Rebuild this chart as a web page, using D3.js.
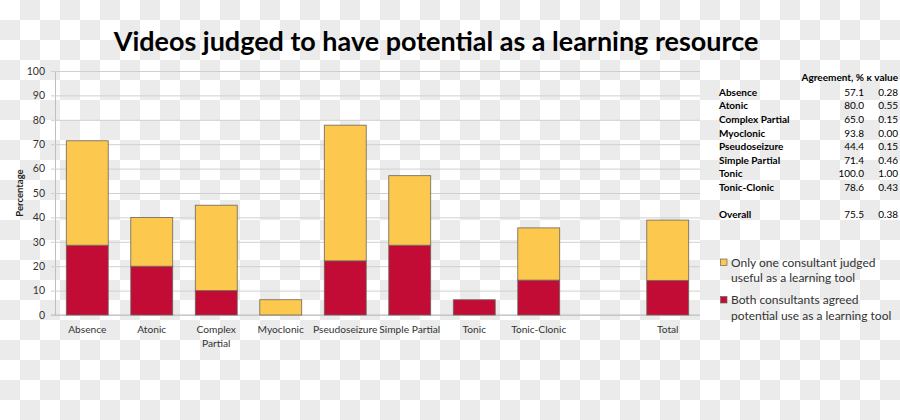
<!DOCTYPE html>
<html>
<head>
<meta charset="utf-8">
<script src="https://cdn.jsdelivr.net/npm/d3@7"></script>
<style>
  html, body { margin: 0; padding: 0; background: #fff; }
  svg { display: block; font-family: Lato, "Open Sans", sans-serif; }
</style>
</head>
<body>
<svg id="chart" width="900" height="420"></svg>
<script>
// ---- Data ----
const categories = ["Absence", "Atonic", "Complex Partial", "Myoclonic", "Pseudoseizure",
                    "Simple Partial", "Tonic", "Tonic-Clonic", "", "Total"];
const tickLabels = ["Absence", "Atonic", "Complex\nPartial", "Myoclonic", "Pseudoseizure",
                    "Simple Partial", "Tonic", "Tonic-Clonic", "", "Total"];
const bothAgreed = [28.6, 20.0, 10.0, 0, 22.2, 28.6, 6.25, 14.3, null, 14.2];
const onlyOne    = [42.8, 20.0, 35.0, 6.25, 55.6, 28.5, 0, 21.4, null, 24.7];
const yTicks = [0, 10, 20, 30, 40, 50, 60, 70, 80, 90, 100];

const tableTypes = ["Absence", "Atonic", "Complex Partial", "Myoclonic", "Pseudoseizure",
                    "Simple Partial", "Tonic", "Tonic-Clonic"];
const agreement = ["57.1", "80.0", "65.0", "93.8", "44.4", "71.4", "100.0", "78.6"];
const kappa     = ["0.28", "0.55", "0.15", "0.00", "0.15", "0.46", "1.00", "0.43"];
const overallRow = ["Overall", "75.5", "0.38"];

const seriesNames = ["Only one consultant judged\nuseful as a learning tool",
                     "Both consultants agreed\npotential use as a learning tool"];
const colors = { one: "#FDC84E", both: "#C20C35" };

// ---- Setup ----
const svg = d3.select("#chart");
const W = 900, H = 420;

// checkerboard backdrop (as in the reference image)
const defs = svg.append("defs");
const pat = defs.append("pattern").attr("id", "checker")
  .attr("width", 40).attr("height", 40).attr("patternUnits", "userSpaceOnUse");
pat.append("rect").attr("width", 40).attr("height", 40).attr("fill", "#ffffff");
pat.append("rect").attr("x", 20).attr("y", 0).attr("width", 20).attr("height", 20).attr("fill", "#ebebeb");
pat.append("rect").attr("x", 0).attr("y", 20).attr("width", 20).attr("height", 20).attr("fill", "#ebebeb");
svg.append("rect").attr("width", W).attr("height", H).attr("fill", "url(#checker)");

const plot = { left: 55, right: 700, top: 71, bottom: 315 };

const x = d3.scaleBand().domain(d3.range(categories.length))
  .range([plot.left, plot.right]).paddingInner(0.35).paddingOuter(0.175);
const y = d3.scaleLinear().domain([0, 100]).range([plot.bottom, plot.top]);

// gridlines + y axis
const yAxis = d3.axisLeft(y).tickValues(yTicks).tickSize(-(plot.right - plot.left)).tickPadding(10);
const gy = svg.append("g").attr("transform", `translate(${plot.left},0)`).call(yAxis);
gy.select(".domain").attr("stroke", "#bfbfbf");
gy.selectAll(".tick line").attr("stroke", "#d0d0d0").attr("x1", -4);
gy.selectAll(".tick text").attr("fill", "#333").style("font-size", "10.5px")
  .style("font-family", "Lato, sans-serif");

// x baseline
svg.append("line").attr("x1", plot.left - 4).attr("x2", plot.right)
  .attr("y1", y(0)).attr("y2", y(0)).attr("stroke", "#bfbfbf");

// bars
const data = categories.map((c, i) => ({ i, c, both: bothAgreed[i], one: onlyOne[i] }))
  .filter(d => d.both !== null);
const barG = svg.append("g");
data.forEach(d => {
  if (d.both > 0) {
    barG.append("rect").attr("x", x(d.i)).attr("width", x.bandwidth())
      .attr("y", y(d.both)).attr("height", y(0) - y(d.both))
      .attr("fill", colors.both).attr("stroke", "#6b655a").attr("stroke-width", 0.8);
  }
  if (d.one > 0) {
    barG.append("rect").attr("x", x(d.i)).attr("width", x.bandwidth())
      .attr("y", y(d.both + d.one)).attr("height", y(d.both) - y(d.both + d.one))
      .attr("fill", colors.one).attr("stroke", "#6b655a").attr("stroke-width", 0.8);
  }
});

// x labels
const xl = svg.append("g");
tickLabels.forEach((lab, i) => {
  const t = xl.append("text").attr("x", x(i) + x.bandwidth() / 2).attr("y", 333)
    .attr("text-anchor", "middle").attr("fill", "#333").style("font-size", "10.2px");
  lab.split("\n").forEach((ln, k) => {
    t.append("tspan").attr("x", x(i) + x.bandwidth() / 2).attr("dy", k === 0 ? 0 : 13.5).text(ln);
  });
});

// y title
svg.append("text").attr("transform", "translate(23,193) rotate(-90)")
  .attr("text-anchor", "middle").attr("fill", "#222").style("font-size", "9.5px")
  .style("font-weight", "bold").text("Percentage");

// title
const title = svg.append("text").attr("x", 436).attr("y", 51).attr("text-anchor", "middle")
  .attr("fill", "#000").style("font-size", "26px").style("font-weight", "bold")
  .text("Videos judged to have potential as a learning resource");
{
  const len = title.node().getComputedTextLength();
  title.style("font-size", (26 * 645 / len) + "px");
}

// table
const tg = svg.append("g").style("font-size", "10px").attr("fill", "#000");
tg.append("text").attr("x", 864).attr("y", 80.5).attr("text-anchor", "end")
  .style("font-weight", "bold").text("Agreement, %");
tg.append("text").attr("x", 898).attr("y", 80.5).attr("text-anchor", "end")
  .style("font-weight", "bold").text("κ value");
const rowY = d3.scaleLinear().domain([0, 1]).range([95.8, 109.4]);
tableTypes.forEach((t, i) => {
  tg.append("text").attr("x", 719).attr("y", rowY(i)).style("font-weight", "bold").text(t);
  tg.append("text").attr("x", 864).attr("y", rowY(i)).attr("text-anchor", "end").text(agreement[i]);
  tg.append("text").attr("x", 898).attr("y", rowY(i)).attr("text-anchor", "end").text(kappa[i]);
});
tg.append("text").attr("x", 719).attr("y", rowY(9)).style("font-weight", "bold").text(overallRow[0]);
tg.append("text").attr("x", 864).attr("y", rowY(9)).attr("text-anchor", "end").text(overallRow[1]);
tg.append("text").attr("x", 898).attr("y", rowY(9)).attr("text-anchor", "end").text(overallRow[2]);

// legend
const lg = svg.append("g");
const legendItems = [{ name: seriesNames[0], color: colors.one, y: 262.5 },
                     { name: seriesNames[1], color: colors.both, y: 300 }];
legendItems.forEach(it => {
  lg.append("rect").attr("x", 720.5).attr("y", it.y - 3.5).attr("width", 6.5).attr("height", 6.5)
    .attr("fill", it.color).attr("stroke", "#6b655a").attr("stroke-width", 0.7);
  const t = lg.append("text").attr("x", 731).attr("y", it.y + 4.2).attr("fill", "#333")
    .style("font-size", "12px");
  it.name.split("\n").forEach((ln, k) => {
    t.append("tspan").attr("x", 731).attr("dy", k === 0 ? 0 : 15.5).text(ln);
  });
});
</script>
</body>
</html>
